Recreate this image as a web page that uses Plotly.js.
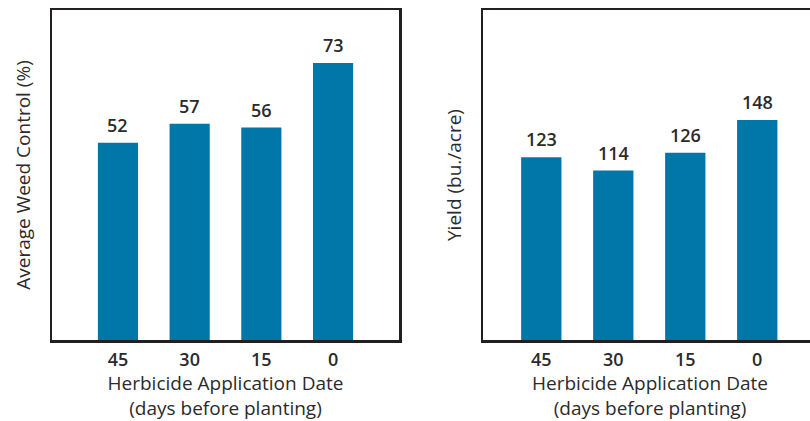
<!DOCTYPE html>
<html>
<head>
<meta charset="utf-8">
<script src="https://cdn.plot.ly/plotly-3.0.1.min.js"></script>
<style>
html,body{margin:0;padding:0;background:#fff;overflow:hidden;}
#chart{width:860px;height:421px;}
</style>
</head>
<body>
<div id="chart"></div>
<script>
var categories = ["45", "30", "15", "0"];
var weedControl = [52, 57, 56, 73];
var yieldValues = [123, 114, 126, 148];
var xTitle = "Herbicide Application Date<br>(days before planting)";
var yTitleLeft = "Average Weed Control (%)";
var yTitleRight = "Yield (bu./acre)";

var W = 860, H = 421;
var barColor = "#0077a8";
var textColor = "#2b2b2b";
var frameColor = "#231f20";
var fontFam = "'Open Sans', 'Noto Sans', sans-serif";

function barTrace(vals, xa, ya) {
  return {
    type: "bar", x: categories, y: vals, xaxis: xa, yaxis: ya,
    marker: {color: barColor, line: {width: 0}},
    width: 0.56,
    hoverinfo: "none", showlegend: false
  };
}

function valueLabels(vals, xa, ya) {
  return vals.map(function (v, i) {
    return {
      x: i, y: v, xref: xa, yref: ya,
      text: String(v), showarrow: false, yanchor: "bottom", yshift: 4,
      font: {family: fontFam, size: 18, color: textColor, weight: 600}
    };
  });
}

var yDom = [(H - 340) / H, (H - 10) / H];

function xAxis(dom, range, anchor) {
  return {
    domain: dom, range: range, anchor: anchor, type: "category",
    showline: true, mirror: true, linewidth: 2.5, linecolor: frameColor,
    ticks: "", showgrid: false, zeroline: false, fixedrange: true,
    tickfont: {family: fontFam, size: 18, color: textColor, weight: 600},
    ticklabelstandoff: 2,
    title: {text: xTitle, font: {family: fontFam, size: 19, color: textColor, weight: 500}, standoff: 17}
  };
}
function yAxis(range, anchor, title) {
  return {
    domain: yDom, range: range, anchor: anchor,
    showline: true, mirror: true, linewidth: 2.5, linecolor: frameColor,
    ticks: "", showticklabels: false, showgrid: false, zeroline: false, fixedrange: true,
    title: {text: title, font: {family: fontFam, size: 19, color: textColor, weight: 500}, standoff: 14}
  };
}

var layout = {
  width: W, height: H,
  margin: {l: 0, r: 0, t: 0, b: 0},
  paper_bgcolor: "#fff", plot_bgcolor: "#fff",
  xaxis: xAxis([52 / W, 399 / W], [-0.92, 3.92], "y"),
  yaxis: yAxis([0, 87], "x", yTitleLeft),
  xaxis2: xAxis([483 / W, 817 / W], [-0.81, 3.83], "y2"),
  yaxis2: yAxis([0, 222], "x2", yTitleRight),
  bargap: 0.44,
  annotations: valueLabels(weedControl, "x", "y").concat(valueLabels(yieldValues, "x2", "y2"))
};

Plotly.newPlot("chart", [barTrace(weedControl, "x", "y"), barTrace(yieldValues, "x2", "y2")], layout, {staticPlot: true, displayModeBar: false});
</script>
</body>
</html>
